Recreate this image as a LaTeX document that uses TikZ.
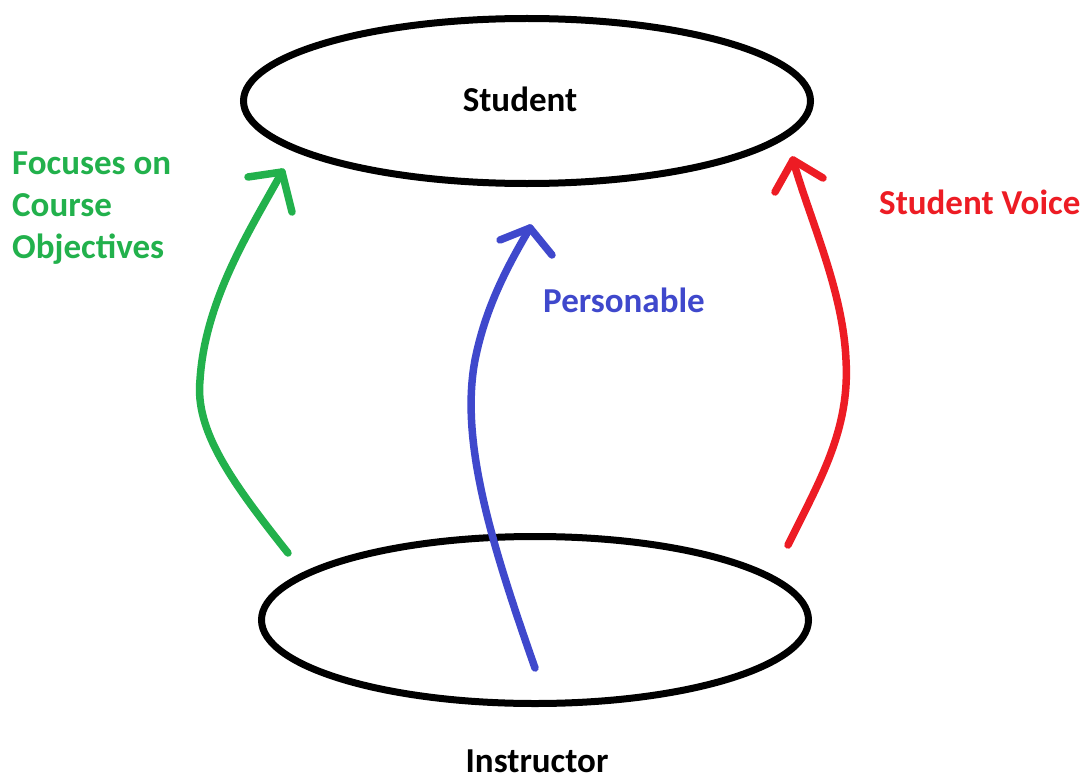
\documentclass[tikz,border=0pt]{standalone}
\usepackage{fontspec}
\setmainfont{Carlito}
\usetikzlibrary{shapes.geometric}
\definecolor{pgreen}{RGB}{34,177,76}
\definecolor{pblue}{RGB}{63,72,204}
\definecolor{pred}{RGB}{237,28,36}
\begin{document}
\begin{tikzpicture}[x=1bp,y=-1bp,
  oval/.style={draw=black,line width=7bp,ellipse,inner sep=0pt},
  lbl/.style={font=\fontsize{35bp}{42bp}\selectfont\bfseries,inner sep=0pt},
  stroke/.style={line width=7.5bp,line cap=round,line join=round}]
\useasboundingbox[fill=white] (0,0) rectangle (1090,776);
\node[oval,minimum width=567bp,minimum height=165bp] (student) at (527,101) {};
\node[oval,minimum width=547bp,minimum height=167bp] (instructor) at (535,620) {};
\node[lbl,anchor=base] (studentlbl) at (520,111) {Student};
\node[lbl,anchor=base] (instructorlbl) at (537,772) {Instructor};
\node[lbl,text=pgreen,anchor=base west] (focus1) at (12,174) {Focuses on};
\node[lbl,text=pgreen,anchor=base west] (focus2) at (12,216) {Course};
\node[lbl,text=pgreen,anchor=base west] (focus3) at (12,258) {Objectives};
\node[lbl,text=pblue,anchor=base west] (pers) at (543,312) {Personable};
\node[lbl,text=pred,anchor=base west] (voice) at (879,214) {Student Voice};
% green arrow
\coordinate (g0) at (288,553);
\coordinate (gt) at (282,172);
\coordinate (gl) at (248,177);
\coordinate (gr) at (292,212);
\draw[stroke,pgreen] (g0) .. controls (230,480) and (195,430) .. (200,380) .. controls (205,300) and (250,230) .. (gt);
\draw[stroke,pgreen] (gl) -- (gt) -- (gr);
% blue arrow
\coordinate (b0) at (535,668);
\coordinate (bt) at (530,228);
\coordinate (bl) at (500,240);
\coordinate (br) at (552,255);
\draw[stroke,pblue] (b0) .. controls (490,540) and (460,440) .. (475,360) .. controls (485,310) and (505,270) .. (bt);
\draw[stroke,pblue] (bl) -- (bt) -- (br);
% red arrow
\coordinate (r0) at (788,545);
\coordinate (rt) at (793,160);
\coordinate (rl) at (775,192);
\coordinate (rr) at (823,178);
\draw[stroke,pred] (r0) .. controls (820,480) and (850,430) .. (846,360) .. controls (843,290) and (810,220) .. (rt);
\draw[stroke,pred] (rl) -- (rt) -- (rr);
\end{tikzpicture}
\end{document}
